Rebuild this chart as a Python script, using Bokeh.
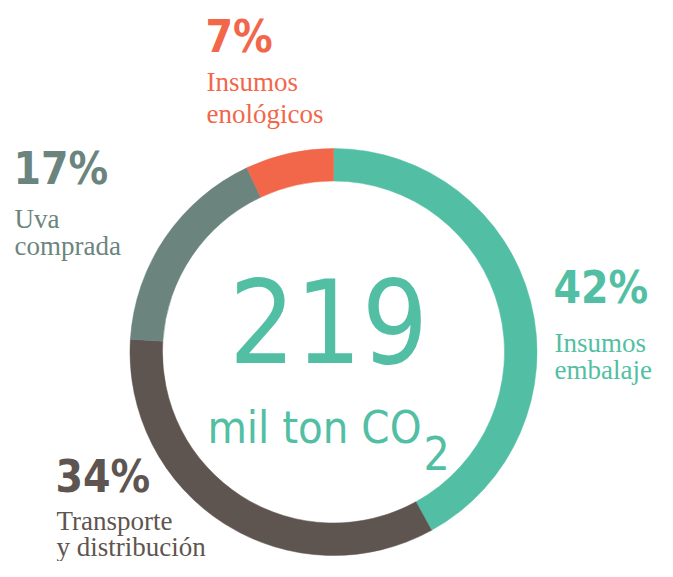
import numpy as np
from bokeh.plotting import figure
from bokeh.models import Range1d
from bokeh.core.properties import value
from bokeh.embed import file_html
from bokeh.resources import INLINE

# ---- data ----
categories = ["Insumos embalaje", "Transporte y distribución", "Uva comprada", "Insumos enológicos"]
shares = [42, 34, 17, 7]
pct_labels = ["42%", "34%", "17%", "7%"]
label_line1 = ["Insumos", "Transporte", "Uva", "Insumos"]
label_line2 = ["embalaje", "y distribución", "comprada", "enológicos"]
total_value = "219"
total_unit = "mil ton CO"
total_sub = "2"
colors = ["#52BFA4", "#5E5550", "#6B857E", "#F26649"]

W, H = 657, 561
IMG_H = 577
p = figure(width=W, height=H, output_backend="svg", toolbar_location=None,
           x_range=Range1d(0, W), y_range=Range1d(IMG_H - H, IMG_H),
           min_border=0, min_border_left=0, min_border_right=0,
           min_border_top=0, min_border_bottom=0)
p.axis.visible = False
p.grid.visible = False
p.outline_line_color = None
p.background_fill_color = "white"
p.border_fill_color = "white"

def Y(img_y):
    return IMG_H - img_y

cx, cy = 333, Y(351.5)
frac = np.array(shares, dtype=float) / sum(shares)
cum = np.concatenate([[0.0], np.cumsum(frac)])
start = np.pi / 2 - 2 * np.pi * cum[1:]
end = np.pi / 2 - 2 * np.pi * cum[:-1]
p.annular_wedge(x=cx, y=cy, inner_radius=171, outer_radius=203.5,
                start_angle=start, end_angle=end, direction="anticlock",
                fill_color=colors, line_color=colors, line_width=0.5)

COND = "DejaVu Sans Condensed"
SERIF = "Liberation Serif"

def T(x, base, txt, size, font, color, bold=False, align="left", k=0.36):
    anchor = base - k * size
    p.text(x=[x], y=[Y(anchor)], text=[txt], text_color=color,
           text_font=value(font), text_font_size=f"{size}px",
           text_font_style="bold" if bold else "normal",
           text_align=align, text_baseline="alphabetic")

# label anchors (image px): x, pct baseline, line1 baseline, line2 baseline
anchors = [
    (553, 303, 351, 378),
    (55, 492, 529, 555),
    (13, 184, 227, 254),
    (205, 52, 90, 122),
]
for i, (ax, pb, l1, l2) in enumerate(anchors):
    T(ax, pb, pct_labels[i], 44, COND, colors[i], bold=True)
    T(ax + 1, l1, label_line1[i], 27, SERIF, colors[i], k=0.33)
    T(ax + 1, l2, label_line2[i], 27, SERIF, colors[i], k=0.33)

# center text
T(328, 362, total_value, 116, COND, colors[0], align="center")
T(421, 443, total_unit, 45, COND, colors[0], align="right")
T(423, 469, total_sub, 46, COND, colors[0])

open("out.html", "w").write(file_html(p, INLINE))
